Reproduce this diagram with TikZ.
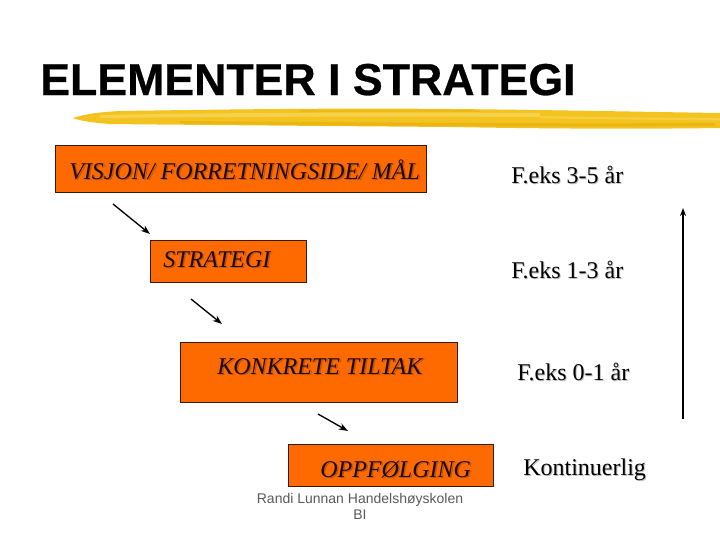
\documentclass[tikz,border=0pt]{standalone}
\usepackage{fontspec}
\setmainfont{Liberation Serif}
\newfontfamily\arialfont{Liberation Sans}
\newfontfamily\titlefont[FakeBold=0.6]{Liberation Sans Bold}
\usetikzlibrary{arrows.meta}
\definecolor{boxfill}{HTML}{FF6A00}
\definecolor{boxline}{HTML}{3A1A00}
\definecolor{boxtext}{HTML}{1A0A00}
\definecolor{shadowc}{HTML}{7A3410}
\definecolor{brushA}{HTML}{F3C31F}
\definecolor{brushB}{HTML}{F8D65A}
\definecolor{brushC}{HTML}{E8B010}
\definecolor{footgray}{HTML}{5A5A5A}
\begin{document}
\begin{tikzpicture}[x=0.75pt,y=-0.75pt,
  stagebox/.style={draw=boxline,line width=0.8pt,fill=boxfill,anchor=north west,inner sep=0pt},
  stagetext/.style={anchor=base west,inner sep=0pt,font=\fontsize{18}{20}\selectfont\itshape,text=boxtext},
  stageshadow/.style={anchor=base west,inner sep=0pt,font=\fontsize{18}{20}\selectfont\itshape,text=shadowc,opacity=0.45},
  timetext/.style={anchor=base west,inner sep=0pt,font=\fontsize{18}{20}\selectfont,text=black},
  timeshadow/.style={anchor=base west,inner sep=0pt,font=\fontsize{18}{20}\selectfont,text=black!25},
  flowarrow/.style={-{Stealth[length=7pt,width=5pt]},line width=1pt,black}]
\useasboundingbox (0,0) rectangle (720,540);
% title
\node[anchor=base west,inner sep=0pt,font=\titlefont\fontsize{33.5}{36}\selectfont] (title) at (40,95) {ELEMENTER I STRATEGI};
% brush stroke
\fill[brushA] (73,118) .. controls (85,114) and (100,112) .. (120,111)
  .. controls (250,109) and (350,108) .. (450,109) .. controls (560,110) and (650,112) .. (720,113)
  -- (720,128) .. controls (650,129) and (560,129) .. (450,127) .. controls (330,126) and (200,125) .. (110,124)
  .. controls (95,123) and (80,121) .. (73,118) -- cycle;
\fill[brushB,opacity=0.75] (100,115) .. controls (200,113) and (350,112) .. (540,113) -- (540,117) .. controls (350,116) and (200,117) .. (100,118) -- cycle;
\fill[brushC,opacity=0.7] (180,121) .. controls (350,122) and (500,124) .. (715,123) -- (715,126) .. controls (500,127) and (350,126) .. (180,123.5) -- cycle;
\fill[brushB,opacity=0.6] (540,116) .. controls (600,117) and (660,118) .. (720,118) -- (720,120.5) .. controls (660,120) and (600,119) .. (540,118.5) -- cycle;
\fill[brushC,opacity=0.5] (300,110) .. controls (380,109.5) and (440,109.5) .. (480,110) -- (480,112) .. controls (440,111.5) and (380,111.5) .. (300,112) -- cycle;
% boxes
\node[stagebox,minimum width=371*0.75pt,minimum height=47*0.75pt] (b1) at (55,145) {};
\node[stagebox,minimum width=156*0.75pt,minimum height=42*0.75pt] (b2) at (150,240) {};
\node[stagebox,minimum width=277*0.75pt,minimum height=60*0.75pt] (b3) at (180,342) {};
\node[stagebox,minimum width=205*0.75pt,minimum height=42*0.75pt] (b4) at (288,444) {};
% box texts
\node[stageshadow] at (70.5,180.5) {VISJON/ FORRETNINGSIDE/ MÅL};
\node[stagetext] (t1) at (69,179) {VISJON/ FORRETNINGSIDE/ MÅL};
\node[stageshadow] at (164.5,268.5) {STRATEGI};
\node[stagetext] (t2) at (163,267) {STRATEGI};
\node[stageshadow] at (218.5,375.5) {KONKRETE TILTAK};
\node[stagetext] (t3) at (217,374) {KONKRETE TILTAK};
\node[stageshadow] at (321.5,478.5) {OPPFØLGING};
\node[stagetext] (t4) at (320,477) {OPPFØLGING};
% flow arrows
\coordinate (a1s) at (113,204); \coordinate (a1e) at (150,234);
\coordinate (a2s) at (191,299); \coordinate (a2e) at (222,324);
\coordinate (a3s) at (318,414); \coordinate (a3e) at (348,431);
\draw[flowarrow] (a1s) -- (a1e);
\draw[flowarrow] (a2s) -- (a2e);
\draw[flowarrow] (a3s) -- (a3e);
% time labels
\node[timeshadow] at (512,184) {F.eks 3-5 år};
\node[timetext] (r1) at (511,183) {F.eks 3-5 år};
\node[timeshadow] at (512,279) {F.eks 1-3 år};
\node[timetext] (r2) at (511,278) {F.eks 1-3 år};
\node[timeshadow] at (518,381) {F.eks 0-1 år};
\node[timetext] (r3) at (517,380) {F.eks 0-1 år};
\node[timeshadow] at (524,476) {Kontinuerlig};
\node[timetext] (r4) at (523,475) {Kontinuerlig};
% vertical arrow
\coordinate (vb) at (683,419); \coordinate (vt) at (683,208);
\draw[-{Stealth[length=6pt,width=4.5pt]},line width=1.2pt] (vb) -- (vt);
% footer
\node[font=\arialfont\fontsize{10.5}{12}\selectfont,text=footgray,align=center,anchor=north,inner sep=0pt] (foot) at (360,493) {Randi Lunnan Handelshøyskolen\\BI};
\end{tikzpicture}
\end{document}
